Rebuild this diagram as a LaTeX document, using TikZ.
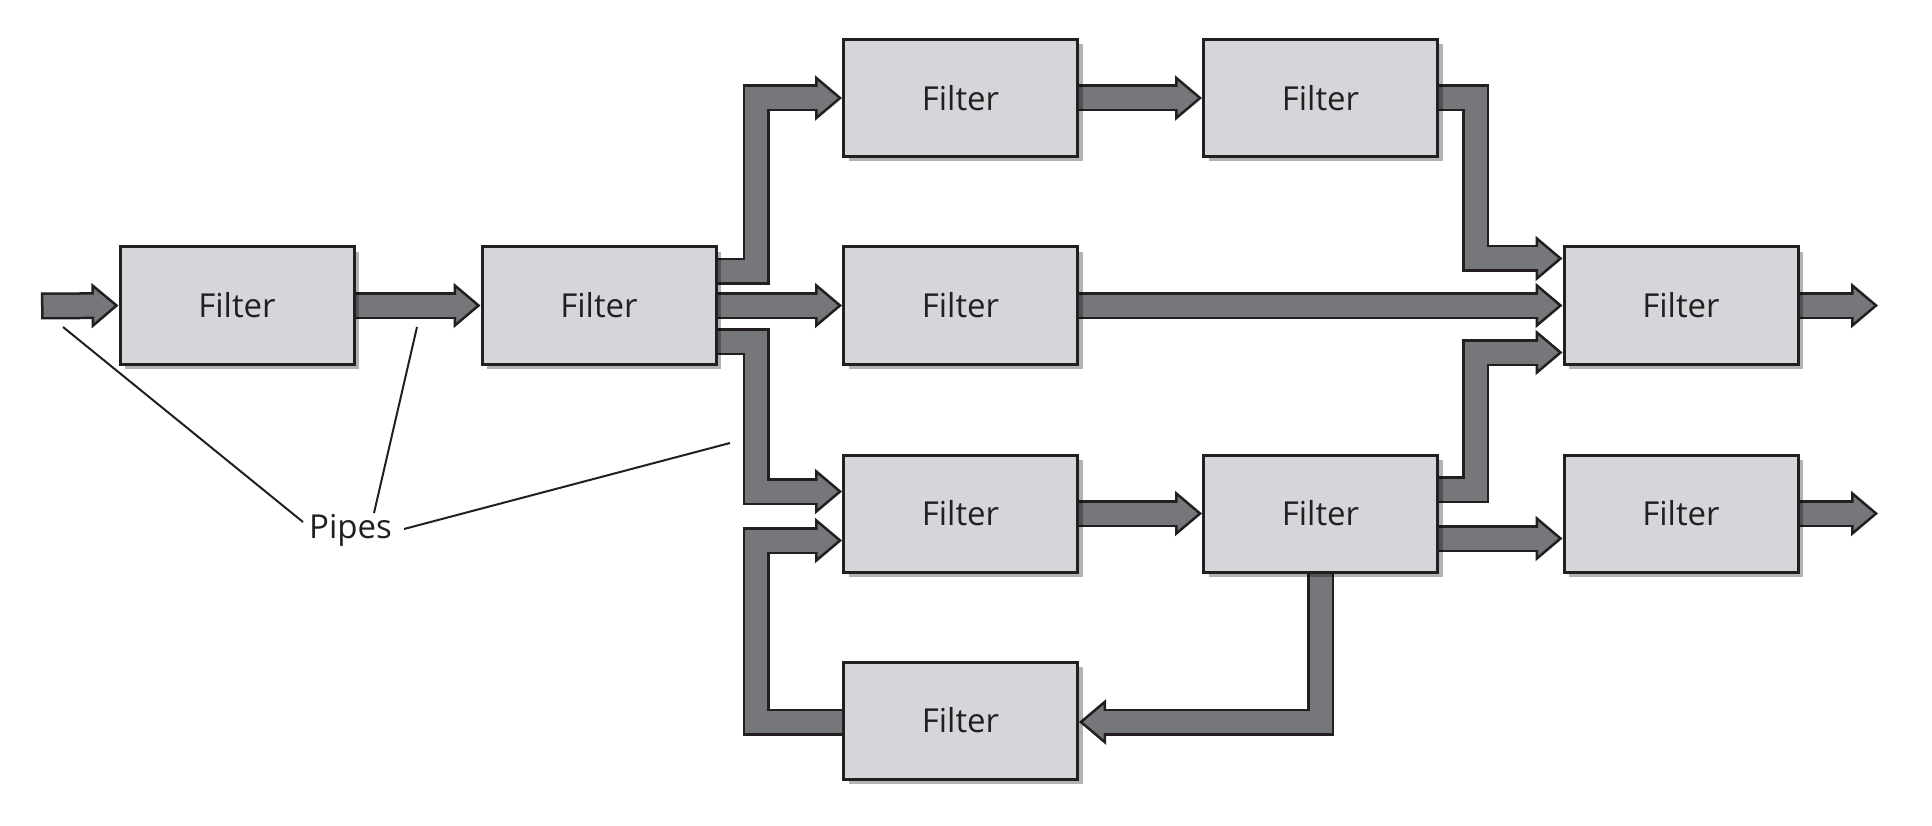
\documentclass[tikz,border=0pt]{standalone}
\usepackage{fontspec}
\setmainfont{Open Sans}
\usetikzlibrary{arrows.meta,calc,shadows}
\definecolor{ink}{HTML}{231F20}
\definecolor{boxfill}{HTML}{D5D6D9}
\definecolor{pipefill}{HTML}{76777A}
\pgfdeclarelayer{pipes}
\pgfsetlayers{pipes,main}
\tikzset{
  filt/.style={draw=ink, line width=3pt, fill=boxfill, minimum width=234pt,
    minimum height=117pt, inner sep=0pt, text=ink,
    font=\fontsize{33}{38}\selectfont,
    drop shadow={shadow xshift=5pt, shadow yshift=-5pt, fill=black, opacity=0.3}},
  pipeA/.style={draw=ink, line width=27pt, line join=miter,
    -{Triangle[length=27pt,width=45pt,fill=pipefill,line width=2.5pt]}},
  pipeB/.style={draw=pipefill, line width=22pt, line join=miter, shorten >=24pt},
  leader/.style={draw=ink, line width=2pt},
  lbl/.style={text=ink, font=\fontsize{33}{38}\selectfont, inner sep=0pt}
}
\newcommand\drawpipe[1]{%
  \begin{pgfonlayer}{pipes}\draw[pipeA] #1; \draw[pipeB] #1;\end{pgfonlayer}}
\begin{document}
\begin{tikzpicture}[x=1pt,y=-1pt]
\useasboundingbox (0,0) rectangle (1932,826);
% filters
\node[filt] (b1) at (237,305.5) {Filter};
\node[filt] (b2) at (599,305.5) {Filter};
\node[filt] (b3) at (960.5,98) {Filter};
\node[filt] (b4) at (1320.5,98) {Filter};
\node[filt] (b5) at (960.5,305.5) {Filter};
\node[filt] (b6) at (1681,305.5) {Filter};
\node[filt] (b7) at (960.5,513.5) {Filter};
\node[filt] (b8) at (1320.5,513.5) {Filter};
\node[filt] (b9) at (1681,513.5) {Filter};
\node[filt] (b10) at (960.5,720.5) {Filter};
% helper coordinates
\coordinate (in) at (41,306);
\coordinate (o1) at (1878,305.5);
\coordinate (o2) at (1878,513.5);
\coordinate (busA) at (756,0);
\coordinate (busB) at (1475.5,0);
% pipes
\begin{pgfonlayer}{pipes}
\draw[pipeA] (in) -- (b1.west);
\draw[pipeB] ($(in)+(2.5,0)$) -- (b1.west);
\end{pgfonlayer}
\drawpipe{($(b1.east)+(-8,0)$) -- (b2.west)}
\drawpipe{($(b2.east)+(-8,-34)$) -| (busA |- b3.west) -- (b3.west)}
\drawpipe{($(b2.east)+(-8,0)$) -- (b5.west)}
\drawpipe{($(b2.east)+(-8,36)$) -| ($(busA |- b7.west)+(0,-22)$) -- ($(b7.west)+(0,-22)$)}
\drawpipe{($(b10.west)+(8,1.5)$) -| ($(busA |- b7.west)+(0,27)$) -- ($(b7.west)+(0,27)$)}
\drawpipe{($(b3.east)+(-8,0)$) -- (b4.west)}
\drawpipe{($(b4.east)+(-8,0)$) -| ($(busB |- b6.west)+(0,-47)$) -- ($(b6.west)+(0,-47)$)}
\drawpipe{($(b5.east)+(-8,0)$) -- (b6.west)}
\drawpipe{($(b8.east)+(-8,-24)$) -| ($(busB |- b6.west)+(0,47)$) -- ($(b6.west)+(0,47)$)}
\drawpipe{($(b7.east)+(-8,0)$) -- (b8.west)}
\drawpipe{($(b8.east)+(-8,25)$) -- ($(b9.west)+(0,25)$)}
\drawpipe{($(b8.south)+(0,-8)$) |- ($(b10.east)+(0,1.5)$)}
\drawpipe{($(b6.east)+(-8,0)$) -- (o1)}
\drawpipe{($(b9.east)+(-8,0)$) -- (o2)}
% label and leaders
\node[lbl, anchor=base] (pipes) at (350.5,538) {Pipes};
\coordinate (l1a) at (63,327);  \coordinate (l1b) at (303,522);
\coordinate (l2a) at (417,327); \coordinate (l2b) at (374,513);
\coordinate (l3a) at (730,443); \coordinate (l3b) at (404,529);
\draw[leader] (l1a) -- (l1b);
\draw[leader] (l2a) -- (l2b);
\draw[leader] (l3a) -- (l3b);
\end{tikzpicture}
\end{document}
